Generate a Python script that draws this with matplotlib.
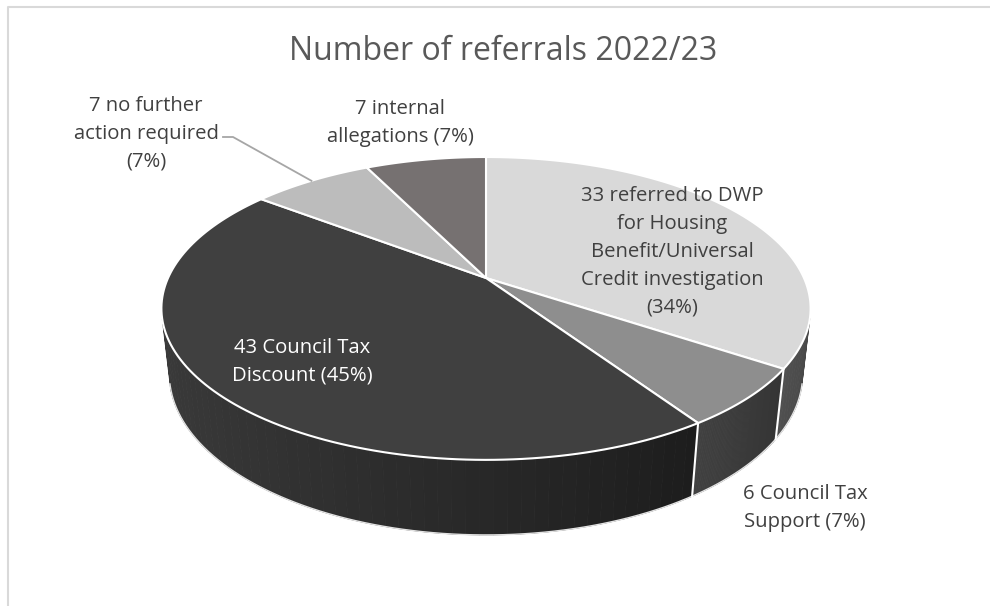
import numpy as np
import matplotlib
matplotlib.use("Agg")
import matplotlib.pyplot as plt
from matplotlib.patches import Polygon

plt.rcParams["font.family"] = ["Open Sans", "DejaVu Sans"]

# referral counts, clockwise from 12 o'clock
categories = [
    "referred to DWP",
    "Council Tax Support",
    "Council Tax Discount",
    "no further action required",
    "internal allegations",
]
counts = [33, 6, 43, 7, 7]
label_texts = [
    "33 referred to DWP\nfor Housing\nBenefit/Universal\nCredit investigation\n(34%)",
    "6 Council Tax\nSupport (7%)",
    "43 Council Tax\nDiscount (45%)",
    "7 no further\naction required\n(7%)",
    "7 internal\nallegations (7%)",
]
top_colors = ["#d9d9d9", "#8e8e8e", "#404040", "#bcbcbc", "#767171"]
label_colors = ["#404040", "#404040", "#ffffff", "#404040", "#404040"]
label_xy = [(672, 252), (805, 508), (302, 362), (146, 134), (400, 123)]

# simple perspective camera for the tilted disc
cx, cy = 486, 278
sin_phi = 0.457
cos_phi = np.sqrt(1 - sin_phi ** 2)
cam_dist = 4.425
focal = 1407.0
thickness = 0.234
# outer wall faces the camera only where cos(theta) is below this
wall_cut = -1.0 / (cam_dist * cos_phi)


def project(u, v, z):
    depth = cam_dist + v * cos_phi - z * sin_phi
    up = v * sin_phi + z * cos_phi
    return cx + focal * u / depth, cy - focal * up / depth


def rim(theta, z=0.0):
    return project(np.sin(theta), np.cos(theta), z)


def shade(hex_color, theta):
    rgb = np.array(matplotlib.colors.to_rgb(hex_color))
    k = 0.62 - 0.3 * np.sin(theta)
    return tuple(np.clip(rgb * k, 0, 1))


fig = plt.figure(figsize=(9.9, 6.06), dpi=100)
ax = fig.add_axes([0, 0, 1, 1])
ax.set_xlim(0, 990)
ax.set_ylim(606, 0)
ax.axis("off")

# chart area frame (runs off the right and bottom edges)
ax.plot([8, 8, 995], [612, 7, 7], color="#d9d9d9", lw=1.5, solid_capstyle="butt")

total = sum(counts)
bounds = np.concatenate([[0], np.cumsum(counts)]) / total * 2 * np.pi

# outer wall, drawn back to front in thin strips
strips = []
for i in range(len(counts)):
    t = np.linspace(bounds[i], bounds[i + 1], 80)
    for a, b in zip(t[:-1], t[1:]):
        if max(np.cos(a), np.cos(b)) > wall_cut + 0.02:
            continue
        m = 0.5 * (a + b)
        pts = [rim(a), rim(b), rim(b, -thickness), rim(a, -thickness)]
        strips.append((np.cos(m), pts, shade(top_colors[i], m)))
strips.sort(key=lambda s: -s[0])
for _, pts, col in strips:
    ax.add_patch(Polygon(pts, closed=True, facecolor=col, edgecolor=col, lw=0.6))

# bottom outline of the wall
lo = np.arccos(wall_cut)
t = np.linspace(lo, 2 * np.pi - lo, 200)
bx, by = rim(t, -thickness)
ax.plot(bx, by, color="#e3e3e3", lw=1.0)

# white seams on the wall where slices meet
for b in bounds[1:-1]:
    if np.cos(b) < wall_cut:
        x0, y0 = rim(b)
        x1, y1 = rim(b, -thickness)
        ax.plot([x0, x1], [y0, y1], color="white", lw=1.5)

# top faces
for i in range(len(counts)):
    t = np.linspace(bounds[i], bounds[i + 1], 120)
    xs, ys = rim(t)
    pts = [(cx, cy)] + list(zip(xs, ys))
    ax.add_patch(Polygon(pts, closed=True, facecolor=top_colors[i],
                         edgecolor="white", lw=1.5, joinstyle="round"))

# leader line for the small grey slice
mid = 0.5 * (bounds[3] + bounds[4])
ex, ey = rim(mid)
ax.plot([223, 233, ex], [137, 137, ey], color="#a6a6a6", lw=1.3)

for text, (x, y), col in zip(label_texts, label_xy, label_colors):
    ax.text(x, y, text, ha="center", va="center", multialignment="center",
            fontsize=14.6, color=col, linespacing=1.53)

ax.text(503, 52, "Number of referrals 2022/23", ha="center", va="center",
        fontsize=23, color="#595959")

fig.savefig("out.png", dpi=100)
